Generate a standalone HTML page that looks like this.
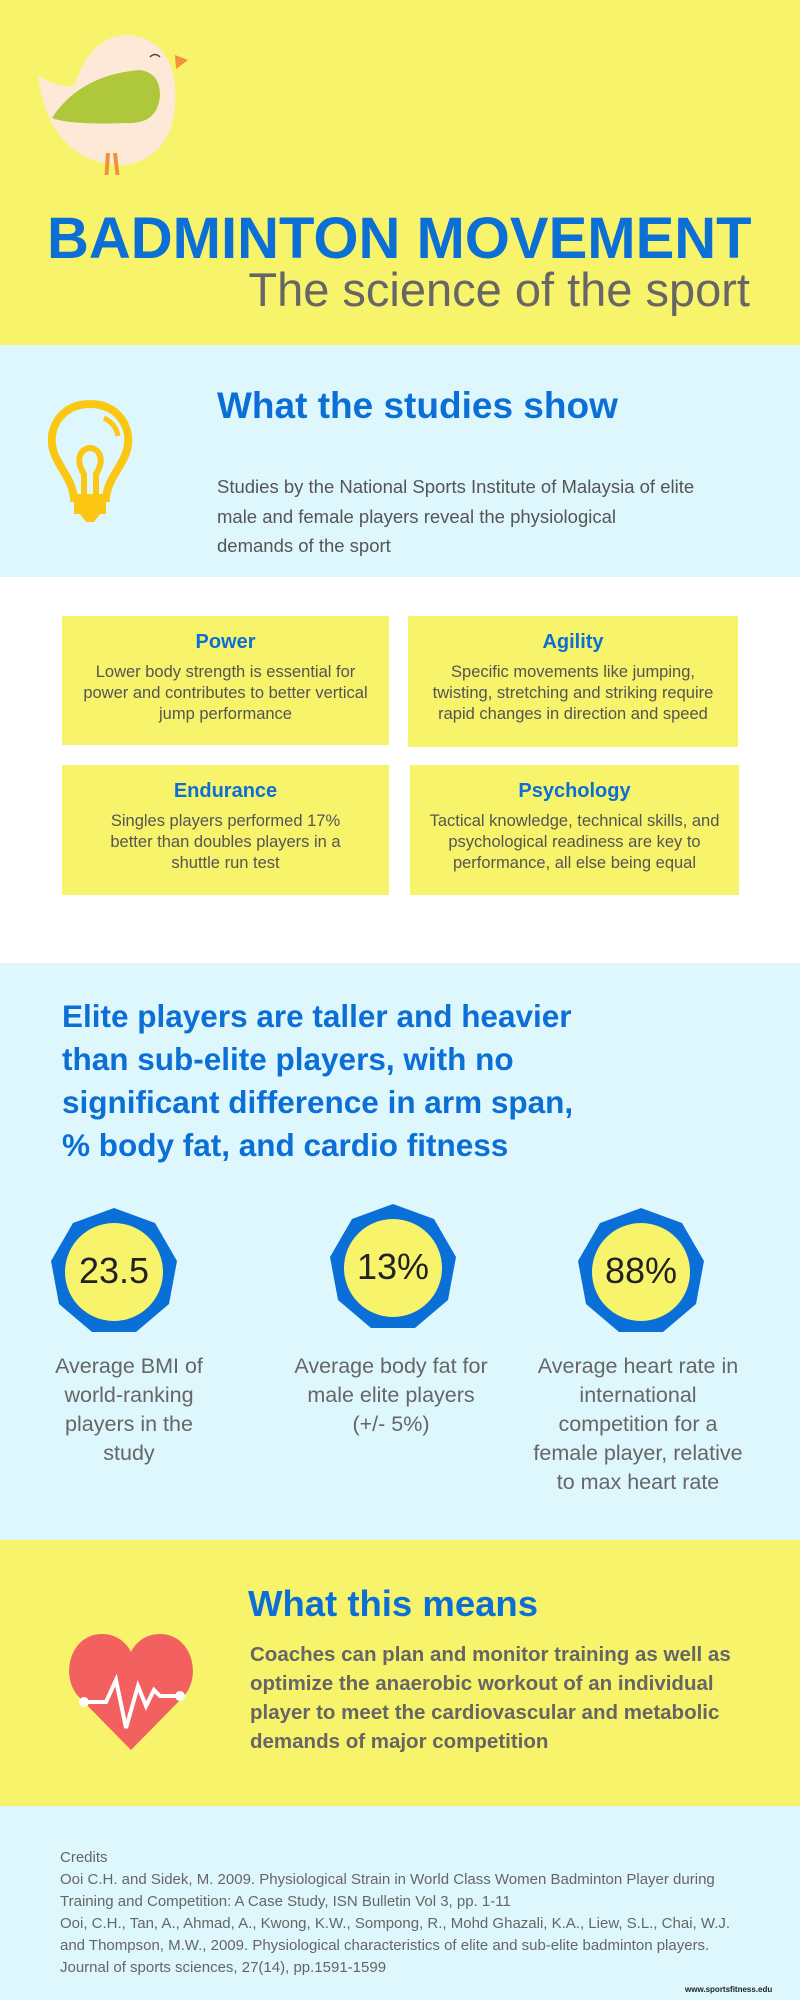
<!DOCTYPE html>
<html><head><meta charset="utf-8"><style>
*{margin:0;padding:0;box-sizing:border-box}
body{width:800px;height:2000px;font-family:"Liberation Sans",sans-serif;position:relative;overflow:hidden;background:#fff}
.abs{position:absolute}
.sec{position:absolute;left:0;width:800px}
.y{background:#f7f36b}.c{background:#ddf7fc}
.blue{color:#0b6fd6}
.box{position:absolute;background:#f7f36b;text-align:center;color:#555;font-size:16.5px;line-height:21px;padding-top:16px}
.box h3{color:#0b6fd6;font-size:20px;margin-bottom:9px}
.stat{position:absolute;text-align:center;color:#666;font-size:21.5px;line-height:29px}
.num{position:absolute;width:130px;text-align:center;font-size:36px;color:#222}
</style></head><body>
<div class="sec y" style="top:0;height:345px"></div>
<svg class="abs" style="left:30px;top:15px" width="170" height="160" viewBox="0 0 170 160">
<path d="M8 60 Q30 75 45 70 Q60 20 100 20 Q140 25 145 70 Q150 140 95 150 Q20 150 8 60Z" fill="#fde9d8"/>
<path d="M22 123 Q50 80 110 75 Q130 78 130 100 Q128 130 95 128 Q40 130 22 123Z" fill="#aec73b" transform="translate(0,-20)"/>
<path d="M145 40 L158 45 L146 54Z" fill="#f0923a"/>
<path d="M120 42 q5 -5 10 0" stroke="#6b3b2b" fill="none" stroke-width="1.5"/>
<path d="M78 138 L75 183 M85 138 L90 183 M72 183 L107 183" stroke="#f0923a" stroke-width="4" fill="none"/>
</svg>
<div class="abs blue" style="left:47px;top:205px;font-size:58px;font-weight:bold;white-space:nowrap">BADMINTON MOVEMENT</div>
<div class="abs" style="right:50px;top:262px;font-size:47px;color:#666;white-space:nowrap">The science of the sport</div>

<div class="sec c" style="top:345px;height:232px"></div>
<svg class="abs" style="left:44px;top:398px" width="92" height="128" viewBox="0 0 92 128">
<path d="M46 6 C20 6 6 26 8 46 C10 66 28 78 30 100 L62 100 C64 78 82 66 84 46 C86 26 72 6 46 6Z" fill="none" stroke="#fbc712" stroke-width="8"/>
<path d="M40 100 L40 76 C30 60 38 50 46 50 C54 50 62 60 52 76 L52 100" fill="none" stroke="#fbc712" stroke-width="6"/>
<rect x="30" y="100" width="32" height="16" fill="#fbc712"/><path d="M36 116 L56 116 L50 124 L42 124Z" fill="#fbc712"/>
<path d="M60 20 Q72 26 74 38" stroke="#fbc712" stroke-width="5" fill="none"/>
</svg>
<div class="abs blue" style="left:217px;top:385px;font-size:37px;font-weight:bold;white-space:nowrap">What the studies show</div>
<div class="abs" style="left:217px;top:472px;font-size:18.5px;line-height:29.5px;color:#555;white-space:nowrap">Studies by the National Sports Institute of Malaysia of elite<br>male and female players reveal the physiological<br>demands of the sport</div>

<div class="box" style="left:62px;top:616px;width:327px;height:129px"><h3>Power</h3>Lower body strength is essential for<br>power and contributes to better vertical<br>jump performance</div>
<div class="box" style="left:408px;top:616px;width:330px;height:131px"><h3>Agility</h3>Specific movements like jumping,<br>twisting, stretching and striking require<br>rapid changes in direction and speed</div>
<div class="box" style="left:62px;top:765px;width:327px;height:130px"><h3>Endurance</h3>Singles players performed 17%<br>better than doubles players in a<br>shuttle run test</div>
<div class="box" style="left:410px;top:765px;width:329px;height:130px"><h3>Psychology</h3>Tactical knowledge, technical skills, and<br>psychological readiness are key to<br>performance, all else being equal</div>

<div class="sec c" style="top:963px;height:577px"></div>
<div class="abs blue" style="left:62px;top:995px;font-size:31.5px;font-weight:bold;line-height:43px;white-space:nowrap">Elite players are taller and heavier<br>than sub-elite players, with no<br>significant difference in arm span,<br>% body fat, and cardio fitness</div>
<svg class="abs" style="left:0;top:1200px" width="800" height="150">
<g fill="#0a6fd6">
<polygon points="0,-64 41,-49 63,-11 55,32 22,60 -22,60 -55,32 -63,-11 -41,-49" transform="translate(114,72)"/>
<polygon points="0,-64 41,-49 63,-11 55,32 22,60 -22,60 -55,32 -63,-11 -41,-49" transform="translate(393,68)"/>
<polygon points="0,-64 41,-49 63,-11 55,32 22,60 -22,60 -55,32 -63,-11 -41,-49" transform="translate(641,72)"/>
</g>
<g fill="#f7f36b"><circle cx="114" cy="72" r="49"/><circle cx="393" cy="68" r="49"/><circle cx="641" cy="72" r="49"/></g>
</svg>
<div class="num" style="left:49px;top:1250px">23.5</div>
<div class="num" style="left:328px;top:1246px">13%</div>
<div class="num" style="left:576px;top:1250px">88%</div>
<div class="stat" style="left:39px;top:1352px;width:180px">Average BMI of<br>world-ranking<br>players in the<br>study</div>
<div class="stat" style="left:281px;top:1352px;width:220px">Average body fat for<br>male elite players<br>(+/- 5%)</div>
<div class="stat" style="left:523px;top:1352px;width:230px">Average heart rate in<br>international<br>competition for a<br>female player, relative<br>to max heart rate</div>

<div class="sec y" style="top:1540px;height:266px"></div>
<svg class="abs" style="left:68px;top:1628px" width="126" height="124" viewBox="0 0 126 124">
<path d="M63 122 L10 68 C-8 48 2 6 34 6 C48 6 58 14 63 24 C68 14 78 6 92 6 C124 6 134 48 116 68Z" fill="#f36060"/>
<path d="M16 74 L38 74 L48 52 L58 100 L70 58 L78 78 L86 62 L92 68 L112 68" stroke="#fff" stroke-width="4" fill="none"/>
<circle cx="16" cy="74" r="5" fill="#fff"/><circle cx="112" cy="68" r="5" fill="#fff"/>
</svg>
<div class="abs blue" style="left:248px;top:1583px;font-size:36.5px;font-weight:bold">What this means</div>
<div class="abs" style="left:250px;top:1640px;font-size:20.5px;font-weight:bold;line-height:29px;color:#666;white-space:nowrap">Coaches can plan and monitor training as well as<br>optimize the anaerobic workout of an individual<br>player to meet the cardiovascular and metabolic<br>demands of major competition</div>

<div class="sec c" style="top:1806px;height:194px"></div>
<div class="abs" style="left:60px;top:1847px;font-size:15px;line-height:22px;color:#666;white-space:nowrap">Credits<br>Ooi C.H. and Sidek, M. 2009. Physiological Strain in World Class Women Badminton Player during<br>Training and Competition: A Case Study, ISN Bulletin Vol 3, pp. 1-11<br>Ooi, C.H., Tan, A., Ahmad, A., Kwong, K.W., Sompong, R., Mohd Ghazali, K.A., Liew, S.L., Chai, W.J.<br>and Thompson, M.W., 2009. Physiological characteristics of elite and sub-elite badminton players.<br>Journal of sports sciences, 27(14), pp.1591-1599</div>
<div class="abs" style="left:685px;top:1985px;font-size:8px;color:#222;font-weight:bold">www.sportsfitness.edu</div>
</body></html>
